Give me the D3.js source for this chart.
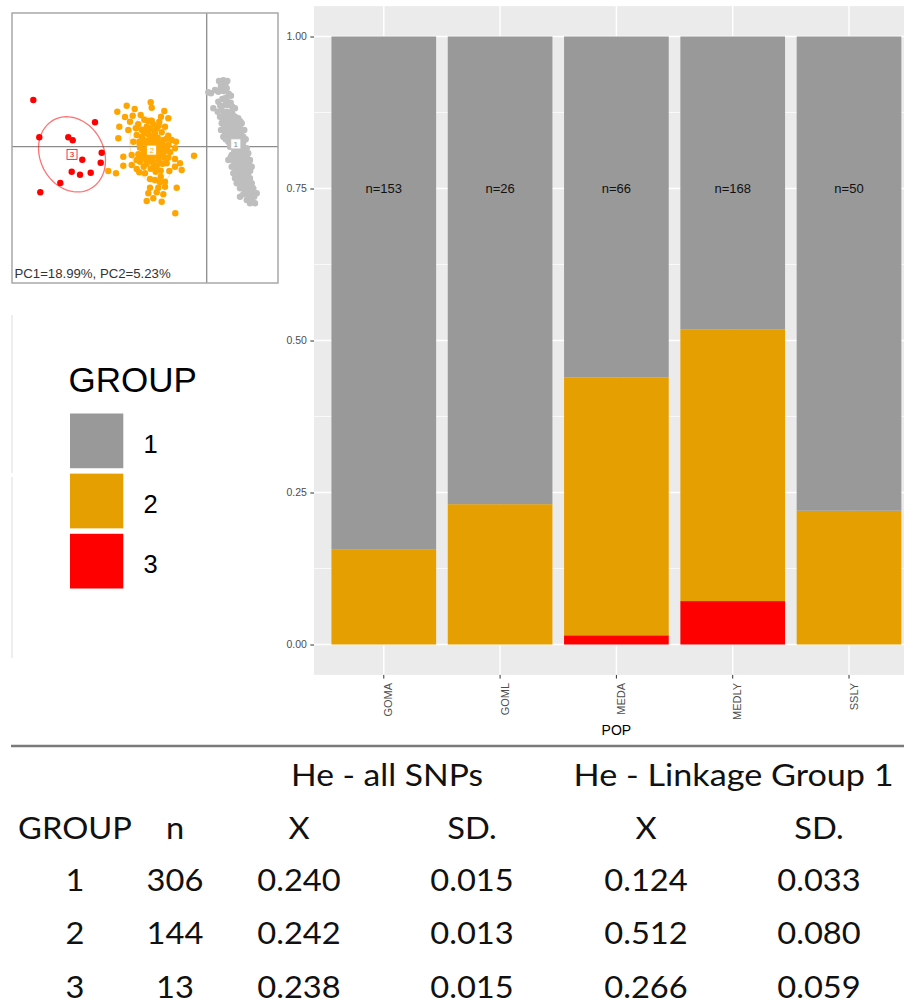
<!DOCTYPE html>
<html>
<head>
<meta charset="utf-8">
<script src="https://cdn.jsdelivr.net/npm/d3@7"></script>
<style>
  body { margin: 0; background: #fff; }
  svg { display: block; }
</style>
</head>
<body>
<svg id="chart" width="904" height="1006"></svg>
<script>
// ---------- Stacked bar: group membership per population ----------
const pops = ["GOMA", "GOML", "MEDA", "MEDLY", "SSLY"];
const groups = ["1", "2", "3"];
const group1Counts = [129, 20, 37, 81, 39];
const group2Counts = [24, 6, 28, 75, 11];
const group3Counts = [0, 0, 1, 12, 0];
const yTicks = [0, 0.25, 0.5, 0.75, 1];

// ---------- Heterozygosity table ----------
const tableGroups = ["1", "2", "3"];
const tableN = [306, 144, 13];
const heAllMean = [0.240, 0.242, 0.238];
const heAllSD = [0.015, 0.013, 0.015];
const heLG1Mean = [0.124, 0.512, 0.266];
const heLG1SD = [0.033, 0.080, 0.059];

// ---------- PCA scores (PC1, PC2) by group ----------
const pcaGroup1 = [
  [1.23,6.57],[1.66,6.64],[2.06,6.57],[1.43,6.24],[1.83,6.17],[0.83,5.67],[0.43,5.34],[0.16,5.44],
  [1.16,5.50],[1.66,5.57],[2.00,5.84],[2.43,5.10],[0.66,3.84],[1.16,4.50],[1.56,4.77],[2.00,4.67],
  [2.16,4.17],[2.56,4.00],[1.10,3.50],[1.50,3.67],[2.00,3.50],[2.50,3.50],[2.83,3.84],[1.33,3.00],
  [1.83,3.00],[2.33,2.90],[2.83,3.00],[3.16,2.84],[1.50,2.34],[2.00,2.44],[2.50,2.34],[3.00,2.34],
  [3.50,2.34],[1.43,1.67],[1.83,1.50],[2.33,1.67],[2.83,1.67],[3.33,1.84],[3.76,1.67],[1.66,1.00],
  [2.16,1.00],[2.66,1.00],[3.16,1.17],[3.66,1.00],[2.16,0.50],[2.66,0.57],[3.16,0.50],[3.66,0.50],
  [2.33,0.00],[2.83,0.00],[3.50,-0.16],[4.00,-0.16],[4.16,-0.66],[2.50,-0.83],[3.00,-0.83],[3.50,-0.83],
  [4.00,-1.00],[2.16,-1.33],[2.66,-1.43],[3.16,-1.50],[3.66,-1.43],[4.33,-1.33],[2.50,-2.00],[3.00,-2.00],
  [3.50,-2.00],[4.00,-1.83],[4.50,-2.00],[2.66,-2.66],[3.16,-2.56],[3.66,-2.50],[4.16,-2.66],[2.83,-3.16],
  [3.33,-3.16],[3.83,-3.16],[4.33,-3.16],[3.00,-3.66],[3.50,-3.66],[4.00,-3.83],[4.50,-3.66],[3.33,-4.16],
  [3.83,-4.33],[4.33,-4.33],[4.66,-4.16],[3.66,-4.76],[4.16,-4.83],[4.66,-4.76],[5.00,-4.66],[4.00,-5.33],
  [4.50,-5.23],[4.83,-5.66],[4.33,-5.66],[3.33,-5.00],
  [1.90,6.40],[1.40,5.90],[2.20,5.30],[1.90,4.90],[1.35,4.10],[1.85,4.20],[2.40,4.40],[1.75,3.30],
  [2.25,3.25],[2.60,3.20],[1.60,2.70],[2.10,2.70],[2.60,2.65],[3.35,2.55],[1.75,2.00],[2.25,2.05],
  [2.75,2.05],[3.25,2.10],[1.95,1.30],[2.45,1.35],[2.95,1.40],[3.45,1.40],[1.90,0.75],[2.40,0.80],
  [2.90,0.75],[3.40,0.80],[3.90,0.75],[2.55,0.25],[3.10,0.25],[3.60,0.20],[2.75,-0.45],[3.25,-0.45],
  [3.75,-0.50],[2.40,-1.05],[2.90,-1.15],[3.40,-1.15],[3.90,-1.25],[2.80,-1.75],[3.30,-1.75],[3.80,-1.70],
  [4.25,-1.70],[2.90,-2.30],[3.40,-2.30],[3.90,-2.30],[4.35,-2.40],[3.05,-2.90],[3.55,-2.90],[4.05,-2.95],
  [3.25,-3.45],[3.75,-3.45],[4.25,-3.50],[3.60,-4.00],[4.10,-4.05],[3.95,-4.55],[4.45,-4.55],[4.30,-5.05],
  [4.75,-5.00]
];
const pcaGroup2 = [
  [-5.60,4.44],[-5.50,3.90],[-8.00,4.10],[-7.20,3.77],[-4.24,3.57],[-8.94,3.50],[-8.17,2.97],[-7.40,3.10],
  [-6.60,3.17],[-6.24,2.70],[-5.84,2.57],[-4.57,3.00],[-3.84,2.84],[-8.74,2.00],[-7.67,2.50],[-6.84,2.24],
  [-6.00,2.00],[-5.34,2.24],[-4.74,2.50],[-4.17,2.00],[-7.84,1.67],[-7.07,1.84],[-6.34,1.57],[-5.67,1.77],
  [-5.00,1.84],[-8.84,0.84],[-7.00,1.17],[-6.50,1.00],[-5.84,1.24],[-5.17,1.24],[-4.50,1.44],[-3.84,1.10],
  [-3.50,0.67],[-3.07,0.50],[-7.34,0.50],[-6.74,0.50],[-6.17,0.50],[-5.67,0.67],[-5.00,0.50],[-4.34,0.67],
  [-3.84,0.17],[-3.17,-0.16],[-6.67,-0.10],[-6.34,-0.33],[-5.84,0.00],[-5.17,-0.16],[-4.67,-0.10],[-4.17,-0.33],
  [-3.67,-0.56],[-8.34,-1.00],[-7.50,-0.83],[-6.84,-0.76],[-6.17,-0.83],[-5.50,-1.00],[-4.84,-1.00],[-4.34,-0.83],
  [-3.84,-1.10],[-3.17,-1.23],[-2.67,-1.66],[-1.27,-0.90],[-8.34,-1.90],[-7.50,-1.83],[-3.17,-2.00],[-2.50,-2.33],
  [-9.07,-2.66],[-9.84,-2.43],[-6.74,-2.56],[-6.17,-2.66],[-5.67,-3.23],[-5.17,-3.33],[-4.67,-3.56],[-4.17,-3.50],
  [-5.67,-4.10],[-4.84,-4.10],[-4.17,-4.00],[-5.84,-4.66],[-5.00,-4.56],[-4.34,-4.76],[-3.00,-4.10],[-6.00,-5.43],
  [-5.34,-5.16],[-4.50,-5.50],[-3.14,-6.66],[-7.00,-2.23],[-3.74,-2.43],[-4.60,-3.00],[-5.17,-2.16],[-6.67,-1.50],
  [-6.00,-1.50],[-5.34,-1.66],[-4.67,-1.66],[-4.00,-1.66],[-6.40,-1.16],[-7.00,-1.33],[-5.34,-0.56],[-6.00,-0.56],
  [-6.10,1.40],[-5.50,1.10],[-4.90,0.90],[-6.40,0.80],[-5.90,0.60],[-5.20,0.30],[-4.60,0.40],[-6.70,0.20],
  [-6.00,-0.20],[-5.50,-0.40],[-4.90,-0.30],[-4.30,0.10],[-6.30,-0.70],[-5.80,-1.10],[-5.10,-0.80],[-4.50,-0.60],
  [-3.90,-0.40],[-6.60,-1.20],[-5.40,-1.40],[-4.80,-1.30],[-4.20,-1.10],[-6.00,-1.70],[-5.00,-1.90],[-4.40,-1.70],
  [-5.70,0.10],[-5.30,0.70],[-4.70,-0.10],[-6.20,0.40],[-5.60,-0.80],[-4.10,-0.20],[-5.90,1.90],[-5.20,1.60],
  [-4.80,2.10],[-6.50,1.70],[-5.50,2.60],[-5.10,-2.50],[-5.60,-2.20],[-4.60,-2.40],[-6.30,-2.00],[-4.00,0.80]
];
const pcaGroup3 = [
  [-17.34,4.67],[-11.17,2.44],[-16.74,0.94],[-13.84,0.94],[-13.40,0.64],[-10.50,-0.60],[-12.44,-1.30],
  [-10.60,-1.60],[-13.50,-2.50],[-12.67,-2.80],[-11.60,-2.60],[-14.64,-3.63],[-16.64,-4.56]
];
const pcaLabel = "PC1=18.99%, PC2=5.23%";

const svg = d3.select("#chart");

// ================= Bar chart =================
const barColor = d3.scaleOrdinal().domain(groups).range(["#999999", "#E69F00", "#FF0000"]);
const totals = pops.map((p, i) => group1Counts[i] + group2Counts[i] + group3Counts[i]);
const rows = pops.map((p, i) => ({
  pop: p,
  "1": group1Counts[i] / totals[i],
  "2": group2Counts[i] / totals[i],
  "3": group3Counts[i] / totals[i]
}));

const x = d3.scaleBand().domain(pops).range([314, 918.8]).paddingInner(0.1).paddingOuter(0.15);
const y = d3.scaleLinear().domain([0, 1]).range([644.5, 36.5]);
const panelTop = y(1.05), panelBottom = y(-0.05);

const bar = svg.append("g");
bar.append("rect")
  .attr("x", 314).attr("y", panelTop)
  .attr("width", 918.8 - 314).attr("height", panelBottom - panelTop)
  .attr("fill", "#EBEBEB");

// minor horizontal grid
bar.append("g").selectAll("line")
  .data([0.125, 0.375, 0.625, 0.875]).join("line")
  .attr("x1", 314).attr("x2", 918.8)
  .attr("y1", d => y(d)).attr("y2", d => y(d))
  .attr("stroke", "#fff").attr("stroke-width", 0.7);
// major horizontal grid
bar.append("g").selectAll("line")
  .data(yTicks).join("line")
  .attr("x1", 314).attr("x2", 918.8)
  .attr("y1", d => y(d)).attr("y2", d => y(d))
  .attr("stroke", "#fff").attr("stroke-width", 1.4);
// vertical grid
bar.append("g").selectAll("line")
  .data(pops).join("line")
  .attr("x1", d => x(d) + x.bandwidth() / 2).attr("x2", d => x(d) + x.bandwidth() / 2)
  .attr("y1", panelTop).attr("y2", panelBottom)
  .attr("stroke", "#fff").attr("stroke-width", 1.4);

const stacked = d3.stack().keys(["3", "2", "1"])(rows);
bar.append("g").selectAll("g")
  .data(stacked).join("g")
  .attr("fill", s => barColor(s.key))
  .selectAll("rect")
  .data(s => s).join("rect")
  .attr("x", d => x(d.data.pop))
  .attr("width", x.bandwidth())
  .attr("y", d => y(d[1]))
  .attr("height", d => y(d[0]) - y(d[1]));

// sample sizes
bar.append("g").selectAll("text")
  .data(pops).join("text")
  .attr("x", d => x(d) + x.bandwidth() / 2)
  .attr("y", y(0.75))
  .attr("dy", "0.35em")
  .attr("text-anchor", "middle")
  .attr("font-family", "Liberation Sans, Arial, sans-serif")
  .attr("font-size", 13)
  .attr("fill", "#111")
  .text((d, i) => "n=" + totals[i]);

// y axis
const yAxis = bar.append("g")
  .attr("transform", "translate(314,0)")
  .call(d3.axisLeft(y).tickValues(yTicks).tickFormat(d3.format(".2f")).tickSize(3.7).tickPadding(3.5));
yAxis.select(".domain").remove();
yAxis.selectAll(".tick line").attr("stroke", "#333");
yAxis.selectAll(".tick text")
  .attr("fill", "#4D4D4D")
  .attr("font-family", "Liberation Sans, Arial, sans-serif")
  .attr("font-size", 10.5);

// x axis
const xAxis = bar.append("g")
  .attr("transform", `translate(0,${panelBottom})`)
  .call(d3.axisBottom(x).tickSize(3.7).tickFormat(() => ""));
xAxis.select(".domain").remove();
xAxis.selectAll(".tick line").attr("stroke", "#333");
bar.append("g").selectAll("text")
  .data(pops).join("text")
  .attr("transform", d => `translate(${x(d) + x.bandwidth() / 2},${panelBottom + 8}) rotate(-90)`)
  .attr("text-anchor", "end")
  .attr("dy", "0.78em")
  .attr("font-family", "Liberation Sans, Arial, sans-serif")
  .attr("font-size", 11)
  .attr("fill", "#4D4D4D")
  .text(d => d);

bar.append("text")
  .attr("x", (314 + 918.8) / 2).attr("y", 735)
  .attr("text-anchor", "middle")
  .attr("font-family", "Liberation Sans, Arial, sans-serif")
  .attr("font-size", 14)
  .attr("fill", "#000")
  .text("POP");

// ================= Legend =================
const legend = svg.append("g");
legend.append("line").attr("x1", 12).attr("x2", 12).attr("y1", 315).attr("y2", 473)
  .attr("stroke", "#e9e9e9").attr("stroke-width", 1.5);
legend.append("line").attr("x1", 12).attr("x2", 12).attr("y1", 477).attr("y2", 658)
  .attr("stroke", "#e9e9e9").attr("stroke-width", 1.5);
legend.append("text")
  .attr("x", 68.5).attr("y", 392)
  .attr("font-family", "Liberation Sans, Arial, sans-serif")
  .attr("font-size", 35)
  .attr("fill", "#000")
  .text("GROUP");
const keyY = d3.scaleBand().domain(groups).range([413.5, 588.5]).paddingInner(0.09);
legend.selectAll("rect.key")
  .data(groups).join("rect")
  .attr("class", "key")
  .attr("x", 70).attr("y", d => keyY(d))
  .attr("width", 53.3).attr("height", keyY.bandwidth())
  .attr("fill", d => barColor(d));
legend.selectAll("text.lab")
  .data(groups).join("text")
  .attr("class", "lab")
  .attr("x", 143.5)
  .attr("y", d => keyY(d) + keyY.bandwidth() / 2 + 12.3)
  .attr("font-family", "Liberation Sans, Arial, sans-serif")
  .attr("font-size", 25.5)
  .attr("fill", "#000")
  .text(d => d);

// ================= PCA inset =================
const pcaColor = d3.scaleOrdinal().domain(groups).range(["#BEBEBE", "#FFA500", "#FF0000"]);
const px = d3.scaleLinear().domain([-19.47, 7.13]).range([12, 278]);
const py = d3.scaleLinear().domain([13.37, -13.63]).range([13, 283]);
const pca = svg.append("g");
pca.append("rect").attr("x", 12).attr("y", 13).attr("width", 266).attr("height", 270)
  .attr("fill", "#fff");
pca.append("line").attr("x1", px(0)).attr("x2", px(0)).attr("y1", 13).attr("y2", 283)
  .attr("stroke", "#8c8c8c").attr("stroke-width", 1.3);
pca.append("line").attr("x1", 12).attr("x2", 278).attr("y1", py(0)).attr("y2", py(0))
  .attr("stroke", "#8c8c8c").attr("stroke-width", 1.3);

const pcaSets = [
  { key: "1", pts: pcaGroup1 },
  { key: "2", pts: pcaGroup2 },
  { key: "3", pts: pcaGroup3 }
];

// dispersion ellipse (1.5 standard deviations) from each group's scores
function ellipsePoints(pts, k) {
  const mx = d3.mean(pts, d => d[0]), my = d3.mean(pts, d => d[1]);
  const vx = d3.mean(pts, d => (d[0] - mx) ** 2);
  const vy = d3.mean(pts, d => (d[1] - my) ** 2);
  const cxy = d3.mean(pts, d => (d[0] - mx) * (d[1] - my));
  const sx = Math.sqrt(vx), sy = Math.sqrt(vy);
  const r = cxy / (sx * sy);
  return d3.range(0, 361, 4).map(a => {
    const t = a * Math.PI / 180;
    return [mx + k * sx * Math.cos(t),
            my + k * sy * (r * Math.cos(t) + Math.sqrt(1 - r * r) * Math.sin(t))];
  });
}
const ellLine = d3.line().x(d => px(d[0])).y(d => py(d[1]));
const ellStyle = { "1": [0, 0], "2": [0.35, 1], "3": [0.55, 1.3] };
pca.append("g").selectAll("path")
  .data(pcaSets).join("path")
  .attr("d", s => ellLine(ellipsePoints(s.pts, 1.5)))
  .attr("fill", "none")
  .attr("stroke", s => pcaColor(s.key))
  .attr("stroke-opacity", s => ellStyle[s.key][0])
  .attr("stroke-width", s => ellStyle[s.key][1]);

pcaSets.forEach(s => {
  pca.append("g").selectAll("circle")
    .data(s.pts).join("circle")
    .attr("cx", d => px(d[0])).attr("cy", d => py(d[1]))
    .attr("r", 3.2)
    .attr("fill", pcaColor(s.key));
});

// group labels at centroids
const labG = pca.append("g").selectAll("g")
  .data(pcaSets).join("g")
  .attr("transform", s => `translate(${px(d3.mean(s.pts, d => d[0]))},${py(d3.mean(s.pts, d => d[1]))})`);
labG.append("rect").attr("x", -5).attr("y", -5).attr("width", 10).attr("height", 10)
  .attr("fill", "#fff").attr("stroke", s => pcaColor(s.key)).attr("stroke-width", 0.8);
labG.append("text")
  .attr("text-anchor", "middle").attr("dy", "0.35em")
  .attr("font-family", "Liberation Sans, Arial, sans-serif").attr("font-size", 8)
  .attr("fill", s => s.key === "1" ? "#888" : pcaColor(s.key))
  .text(s => s.key);

pca.append("rect").attr("x", 12).attr("y", 13).attr("width", 266).attr("height", 270)
  .attr("fill", "none").attr("stroke", "#a8a8a8").attr("stroke-width", 1.5);
pca.append("text")
  .attr("x", 14.5).attr("y", 278)
  .attr("font-family", "Liberation Sans, Arial, sans-serif")
  .attr("font-size", 13.2)
  .attr("fill", "#333")
  .text(pcaLabel);

// ================= Table =================
const table = svg.append("g");
table.append("line").attr("x1", 11).attr("x2", 904).attr("y1", 746).attr("y2", 746)
  .attr("stroke", "#7a7a7a").attr("stroke-width", 2.4);

const colX = [75, 175, 299, 472, 646, 819];
const rowY = [891, 944, 997.5];
const tFont = "Lato, 'Open Sans', sans-serif";
const f3 = d3.format(".3f");
function cell(cx, by, txt, width) {
  const t = table.append("text")
    .attr("transform", width ? `translate(${cx},${by})` : `translate(${cx},${by}) scale(1.07,1)`)
    .attr("text-anchor", "middle")
    .attr("font-family", tFont)
    .attr("font-size", 30.5)
    .attr("fill", "#111")
    .text(txt);
  if (width) t.attr("textLength", width).attr("lengthAdjust", "spacingAndGlyphs");
}
cell(387, 786, "He - all SNPs", 192);
cell(733.6, 786, "He - Linkage Group 1", 320);
["GROUP", "n", "X", "SD.", "X", "SD."].forEach((h, i) => cell(colX[i], 838.5, h));
tableGroups.forEach((g, i) => {
  cell(colX[0], rowY[i], g);
  cell(colX[1], rowY[i], tableN[i]);
  cell(colX[2], rowY[i], f3(heAllMean[i]));
  cell(colX[3], rowY[i], f3(heAllSD[i]));
  cell(colX[4], rowY[i], f3(heLG1Mean[i]));
  cell(colX[5], rowY[i], f3(heLG1SD[i]));
});
</script>
</body>
</html>
